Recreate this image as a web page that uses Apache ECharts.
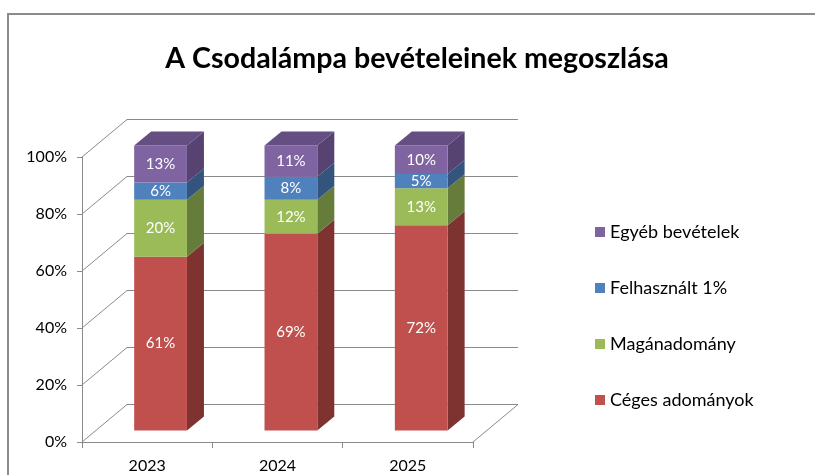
<!DOCTYPE html>
<html lang="hu">
<head>
    <meta charset="UTF-8">
    <title>A Csodalámpa bevételeinek megoszlása</title>
    <script src="https://cdn.jsdelivr.net/npm/echarts@6/dist/echarts.min.js"></script>
    <style>
        html, body { margin: 0; padding: 0; background: #fff; }
        #chart { width: 815px; height: 475px; }
    </style>
</head>
<body>
    <div id="chart"></div>
    <script>
        // adatok
        var categories = ['2023', '2024', '2025'];
        var seriesNames = ['Céges adományok', 'Magánadomány', 'Felhasznált 1%', 'Egyéb bevételek'];
        var cegesValues = [61, 69, 72];
        var maganValues = [20, 12, 13];
        var felhasznaltValues = [6, 8, 5];
        var egyebValues = [13, 11, 10];
        var valueTicks = [0, 20, 40, 60, 80, 100];
        var legendOrder = ['Egyéb bevételek', 'Felhasznált 1%', 'Magánadomány', 'Céges adományok'];

        var colors = ['#C0504D', '#9BBB59', '#4F81BD', '#8064A2'];
        var sideColors = ['#7E3331', '#667C3A', '#33557D', '#564371'];
        var topColor = '#644E82';

        var FONT = 'Lato, "Liberation Sans", sans-serif';
        // mélység (hátsó fal) és oszlop eltolás
        var WALL_DX = 45, WALL_DY = -37.5;
        var BAR_DX = 13.4, BAR_DY = -11.5;
        var DEPTH_DX = 17, DEPTH_DY = -14;

        var allValues = [cegesValues, maganValues, felhasznaltValues, egyebValues];

        var chart = echarts.init(document.getElementById('chart'));

        function gridRender(params, api) {
            var cs = params.coordSys;
            var v = api.value(0);
            var y = api.coord([0, v])[1];
            var x0 = cs.x, x1 = cs.x + cs.width;
            var children = [{
                type: 'polyline',
                shape: { points: [[x0, y], [x0 + WALL_DX, y + WALL_DY], [x1 + WALL_DX, y + WALL_DY]] },
                style: { stroke: '#8a8a8a', lineWidth: 1, fill: null }
            }];
            if (v === 0) {
                children.push({
                    type: 'line',
                    shape: { x1: x1, y1: y, x2: x1 + WALL_DX, y2: y + WALL_DY },
                    style: { stroke: '#8a8a8a', lineWidth: 1 }
                });
            }
            return { type: 'group', children: children };
        }

        function makeBarRender(idx) {
            var isTop = idx === allValues.length - 1;
            return function (params, api) {
                var ci = api.value(0);
                var base = api.value(1);
                var val = api.value(2);
                var pBase = api.coord([ci, base]);
                var pTop = api.coord([ci, base + val]);
                var bw = api.size([1, 0])[0] * 0.405;
                var x0 = pBase[0] + BAR_DX - bw / 2;
                var x1 = x0 + bw;
                var yb = pBase[1] + BAR_DY;
                var yt = pTop[1] + BAR_DY;
                var children = [
                    {
                        type: 'polygon',
                        shape: { points: [[x1, yt], [x1 + DEPTH_DX, yt + DEPTH_DY], [x1 + DEPTH_DX, yb + DEPTH_DY], [x1, yb]] },
                        style: { fill: sideColors[idx] }
                    },
                    {
                        type: 'rect',
                        shape: { x: x0, y: yt, width: bw, height: yb - yt },
                        style: { fill: colors[idx] }
                    },
                    {
                        type: 'text',
                        x: x0 + bw / 2,
                        y: (yt + yb) / 2,
                        style: {
                            text: val + '%',
                            fill: '#ffffff',
                            font: '15px ' + FONT,
                            align: 'center',
                            verticalAlign: 'middle'
                        }
                    }
                ];
                if (isTop) {
                    children.push({
                        type: 'polygon',
                        shape: { points: [[x0, yt], [x0 + DEPTH_DX, yt + DEPTH_DY], [x1 + DEPTH_DX, yt + DEPTH_DY], [x1, yt]] },
                        style: { fill: topColor }
                    });
                }
                return { type: 'group', children: children };
            };
        }

        var series = [{
            type: 'custom',
            name: '__grid',
            z: 1,
            silent: true,
            renderItem: gridRender,
            data: valueTicks.map(function (t) { return [t]; }),
            encode: { y: 0 }
        }];

        var cumulative = categories.map(function () { return 0; });
        allValues.forEach(function (vals, i) {
            var data = vals.map(function (v, ci) {
                var item = [ci, cumulative[ci], v];
                cumulative[ci] += v;
                return item;
            });
            series.push({
                type: 'custom',
                name: seriesNames[i],
                z: 2 + i,
                itemStyle: { color: colors[i] },
                renderItem: makeBarRender(i),
                data: data,
                encode: { x: 0, y: [1, 2] }
            });
        });

        var option = {
            backgroundColor: '#ffffff',
            animation: false,
            graphic: [
                {
                    type: 'polyline',
                    shape: { points: [[8, 480], [8, 14], [820, 14]] },
                    style: { stroke: '#8c8c8c', lineWidth: 2, fill: null }
                },
                {
                    type: 'text',
                    x: 417,
                    y: 59,
                    style: {
                        text: 'A Csodalámpa bevételeinek megoszlása',
                        font: 'bold 28.6px ' + FONT,
                        fill: '#000000',
                        align: 'center',
                        verticalAlign: 'middle'
                    }
                }
            ],
            legend: {
                data: legendOrder,
                orient: 'vertical',
                left: 590,
                top: 217,
                itemWidth: 10,
                itemHeight: 10,
                itemGap: 36,
                icon: 'rect',
                textStyle: { fontFamily: FONT, fontSize: 18, color: '#000', lineHeight: 20 }
            },
            grid: { left: 82, top: 157, width: 391, height: 285 },
            xAxis: {
                type: 'category',
                data: categories,
                axisLine: { lineStyle: { color: '#8a8a8a' } },
                axisTick: { show: true, length: 6, lineStyle: { color: '#8a8a8a' } },
                axisLabel: { fontFamily: FONT, fontSize: 16, color: '#000', margin: 16 },
                splitLine: { show: false }
            },
            yAxis: {
                type: 'value',
                min: 0,
                max: 100,
                interval: 20,
                axisLine: { show: true, lineStyle: { color: '#8a8a8a' } },
                axisTick: { show: true, length: 5, lineStyle: { color: '#8a8a8a' } },
                axisLabel: { fontFamily: FONT, fontSize: 16, color: '#000', margin: 15, formatter: '{value}%' },
                splitLine: { show: false }
            },
            series: series
        };
        chart.setOption(option);
    </script>
</body>
</html>
